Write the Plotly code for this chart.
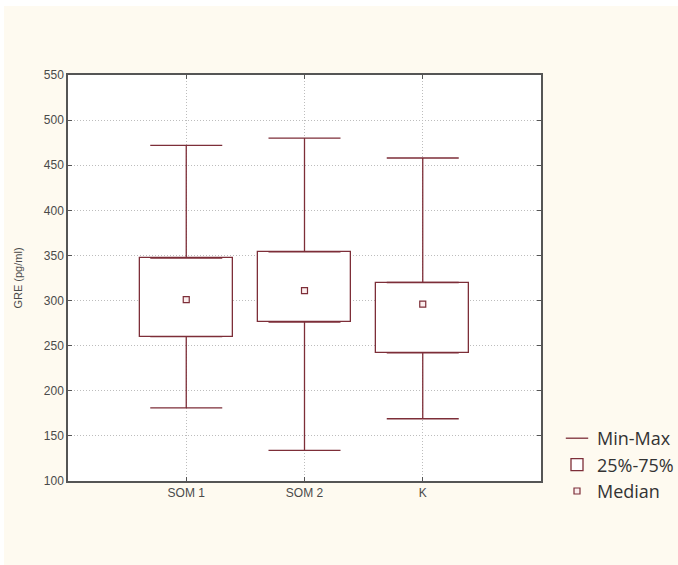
import plotly.graph_objects as go

categories = ["SOM 1", "SOM 2", "K"]
x_pos = [1, 2, 3]
mins = [181, 134, 169]
q1 = [260, 276, 242]
medians = [301, 311, 296]
q3 = [347, 354, 320]
maxs = [472, 480, 458]
y_ticks = [100, 150, 200, 250, 300, 350, 400, 450, 500, 550]

MAROON = "#7d2e38"
GRID = "#bdbdbd"
TXT = "#4a4a4a"

fig = go.Figure()

# upper whiskers (from Q3 up to max)
fig.add_trace(go.Scatter(
    x=x_pos, y=q3, mode="markers", marker=dict(size=0.1, color=MAROON, opacity=0),
    error_y=dict(type="data", symmetric=False,
                 array=[mx - b for mx, b in zip(maxs, q3)],
                 arrayminus=[0] * len(q3),
                 color=MAROON, thickness=1.3, width=36),
    showlegend=False, hoverinfo="skip"))
# lower whiskers (from Q1 down to min)
fig.add_trace(go.Scatter(
    x=x_pos, y=q1, mode="markers", marker=dict(size=0.1, color=MAROON, opacity=0),
    error_y=dict(type="data", symmetric=False,
                 array=[0] * len(q1),
                 arrayminus=[b - mn for b, mn in zip(q1, mins)],
                 color=MAROON, thickness=1.3, width=36),
    showlegend=False, hoverinfo="skip"))

# legend entry for Min-Max
fig.add_trace(go.Scatter(
    x=[None], y=[None], mode="markers", name="Min-Max", legendgroup="a",
    marker=dict(symbol="line-ew-open", size=16, color=MAROON,
                line=dict(color=MAROON, width=1.3))))

# boxes 25%-75%
fig.add_trace(go.Bar(
    x=x_pos, y=[b - a for a, b in zip(q1, q3)], base=q1, width=0.79,
    marker=dict(color="white", line=dict(color=MAROON, width=1.3)),
    name="25%-75%", legendgroup="b", hoverinfo="skip"))

# medians
fig.add_trace(go.Scatter(
    x=x_pos, y=medians, mode="markers", name="Median", legendgroup="c",
    marker=dict(symbol="square", size=6, color="#fbeeee",
                line=dict(color=MAROON, width=1.2))))

fig.update_layout(
    width=678, height=565, autosize=False,
    margin=dict(l=68, r=137, t=75, b=84),
    paper_bgcolor="#fefaf0",
    plot_bgcolor="white",
    font=dict(family="Liberation Sans, Arial, sans-serif", size=12, color=TXT),
    bargap=0,
    legend=dict(xref="container", yref="container", x=557 / 678, y=1 - 465 / 565,
                xanchor="left", yanchor="middle",
                font=dict(family="Open Sans, Noto Sans, sans-serif", size=18, color="#333333"),
                bgcolor="rgba(0,0,0,0)", traceorder="grouped", tracegroupgap=0,
                itemwidth=30),
    shapes=[
        dict(type="rect", xref="paper", yref="paper", x0=-0.3, x1=1.4,
             y0=1.0 + 69 / 406, y1=1.25,
             fillcolor="white", line=dict(width=0), layer="below"),
        dict(type="rect", xref="paper", yref="paper", x0=-0.3, x1=-64 / 473,
             y0=-0.3, y1=1.3,
             fillcolor="white", line=dict(width=0), layer="below"),
    ],
)

fig.update_xaxes(
    range=[0, 4], tickvals=x_pos, ticktext=categories,
    showgrid=True, gridcolor=GRID, griddash="1px,2px", gridwidth=1,
    showline=True, linecolor="#555555", linewidth=1.5, mirror="ticks",
    ticks="inside", ticklen=4, tickcolor="#555555", zeroline=False,
    tickfont=dict(size=12, color=TXT),
)
fig.update_yaxes(
    range=[100, 550], tickvals=y_ticks,
    showgrid=True, gridcolor=GRID, griddash="1px,2px", gridwidth=1,
    showline=True, linecolor="#555555", linewidth=1.5, mirror="ticks",
    ticks="inside", ticklen=4, tickcolor="#555555", zeroline=False,
    tickfont=dict(size=12, color=TXT),
    title=dict(text="GRE (pg/ml)", font=dict(size=11, color=TXT), standoff=19),
)

fig.write_html(
    "out.html",
    config={"responsive": False, "displayModeBar": False},
    post_script="document.body.style.margin='0';document.body.style.overflow='hidden';",
)
